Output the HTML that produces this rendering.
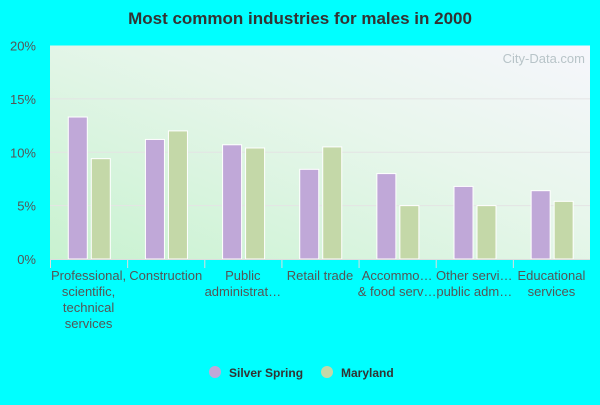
<!DOCTYPE html>
<html><head><meta charset="utf-8"><style>
body{margin:0;width:600px;height:400px;background:#00ffff;overflow:hidden;font-family:"Liberation Sans",sans-serif}
</style></head><body>
<svg width="600" height="400">
<defs><linearGradient id="bg" x1="0" y1="1" x2="1" y2="0">
<stop offset="0" stop-color="#c8f2d0"/><stop offset="0.6" stop-color="#e8f6ec"/><stop offset="1" stop-color="#f6f6fc"/></linearGradient></defs>
<text x="300" y="24" text-anchor="middle" font-size="17" font-weight="bold" fill="#333">Most common industries for males in 2000</text>
<rect x="50" y="45.5" width="540" height="213.5" fill="url(#bg)"/>
<text x="585" y="63" text-anchor="end" font-size="13" fill="#b8c4c8">City-Data.com</text>
<g id="grid"></g><g id="bars"></g><g id="labels"></g>
<line x1="50" y1="259.5" x2="590" y2="259.5" stroke="#ddd"/>
<g>
<circle cx="215" cy="372" r="6" fill="#c0a8d8"/>
<text x="229" y="377" font-size="12" font-weight="bold" fill="#333">Silver Spring</text>
<circle cx="327" cy="372" r="6" fill="#c4d8a8"/>
<text x="341" y="377" font-size="12" font-weight="bold" fill="#333">Maryland</text>
</g>
</svg>
<script>
const categories=[["Professional,","scientific,","technical","services"],["Construction"],["Public","administrat…"],["Retail trade"],["Accommo…","& food serv…"],["Other servi…","public adm…"],["Educational","services"]];
const silverSpring=[13.3,11.2,10.7,8.4,8.0,6.8,6.4];
const maryland=[9.4,12.0,10.4,10.5,5.0,5.0,5.4];
const yTicks=[0,5,10,15,20];
const NS="http://www.w3.org/2000/svg";
const x0=50,cw=540/categories.length,yb=259,yt=45.5;
const y=v=>yb-(v/20)*(yb-yt);
function mk(t,a,p){const e=document.createElementNS(NS,t);for(const k in a)e.setAttribute(k,a[k]);p.appendChild(e);return e;}
const grid=document.getElementById('grid'),bars=document.getElementById('bars'),labels=document.getElementById('labels');
yTicks.forEach(v=>{
 if(v>0&&v<20){const l=mk('line',{x1:50,x2:590,y1:y(v),y2:y(v),stroke:'#e4e4e4'},grid);
 
 }
 const t=mk('text',{x:36,y:y(v)+5,'text-anchor':'end','font-size':13,fill:'#555'},grid);t.textContent=v+'%';
 
 
});
categories.forEach((c,i)=>{
 const cx=x0+i*cw;
 const tk=mk('line',{x1:cx+0.5,x2:cx+0.5,y1:259,y2:268,stroke:'#ddd'},labels);
 
 
 const b1=mk('rect',{x:cx+18.3,y:y(silverSpring[i]),width:19,height:yb-y(silverSpring[i]),fill:'#c0a8d8',stroke:'#fff','stroke-width':1},bars);
 
 
 const b2=mk('rect',{x:cx+41.3,y:y(maryland[i]),width:19,height:yb-y(maryland[i]),fill:'#c4d8a8',stroke:'#fff','stroke-width':1},bars);
 
 
 c.forEach((ln,j)=>{const t=mk('text',{x:cx+cw/2,y:280+j*16,'text-anchor':'middle','font-size':13,fill:'#555'},labels);t.textContent=ln;
 
 });
});
</script>
</body></html>
